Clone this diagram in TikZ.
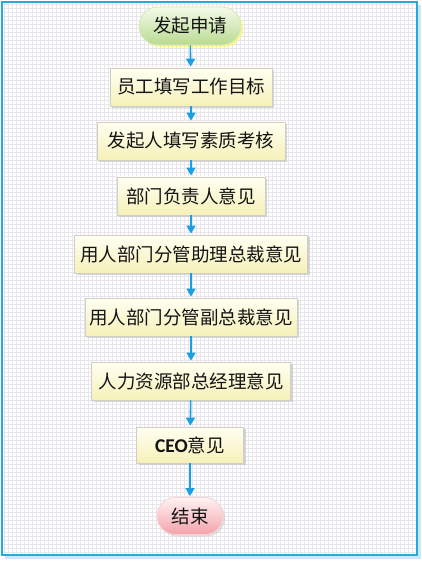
\documentclass[tikz,border=0pt]{standalone}
\usepackage{fontspec}
\newfontfamily\cjk{Noto Sans CJK SC}
\newfontfamily\latinb{Carlito}
\usetikzlibrary{shadows,arrows.meta,shapes.misc}
\definecolor{frameblue}{HTML}{29A8E0}
\definecolor{arrowblue}{HTML}{1A9FE0}
\definecolor{gridgray}{HTML}{E6E6EC}
\definecolor{boxtop}{HTML}{FFFFF2}
\definecolor{boxbot}{HTML}{F6F1B8}
\definecolor{boxline}{HTML}{CFCFC8}
\definecolor{greentop}{HTML}{F4FAE8}
\definecolor{greenbot}{HTML}{B9DA92}
\definecolor{pinktop}{HTML}{FFF2F2}
\definecolor{pinkbot}{HTML}{F3A3AA}
\tikzset{
  txt/.style={font=\cjk\fontsize{18.5}{21}\selectfont, text=black!92},
  stepbox/.style={rectangle, draw=boxline, line width=0.8pt, top color=boxtop, bottom color=boxbot,
    drop shadow={shadow xshift=2pt, shadow yshift=-2pt, fill=black!25, opacity=0.6},
    minimum height=38pt, inner sep=0pt, txt},
  pillgreen/.style={rounded rectangle, draw=greenbot!60!white, line width=0.8pt, top color=greentop, bottom color=greenbot,
    drop shadow={shadow xshift=2pt, shadow yshift=-2pt, fill=yellow!60!white, opacity=0.7},
    minimum height=38pt, inner sep=0pt, txt},
  pillpink/.style={rounded rectangle, draw=pinkbot!50!white, line width=0.8pt, top color=pinktop, bottom color=pinkbot,
    drop shadow={shadow xshift=2pt, shadow yshift=-2pt, fill=black!20, opacity=0.6},
    minimum height=37pt, inner sep=0pt, txt},
  flow/.style={draw=arrowblue, line width=1.6pt, -{Triangle[length=8pt,width=9pt]}, shorten >=1pt}
}
\begin{document}
\begin{tikzpicture}[x=1pt,y=-1pt]
\useasboundingbox (0,0) rectangle (421,561);
% background and grid
\fill[white] (0,0) rectangle (421,561);
\fill[frameblue!25] (5,5) rectangle (421,559);
\fill[white] (2,2) rectangle (417,555);
\draw[gridgray, line width=0.4pt, step=4pt] (3,3) grid (416,554);
\draw[frameblue, line width=2pt] (2,2) rectangle (417,555);
% nodes
\node[pillgreen, minimum width=102pt] (start) at (190,26) {发起申请};
\node[stepbox, minimum width=162pt] (n1) at (191,87) {员工填写工作目标};
\node[stepbox, minimum width=188pt] (n2) at (191,141) {发起人填写素质考核};
\node[stepbox, minimum width=148pt] (n3) at (191,196) {部门负责人意见};
\node[stepbox, minimum width=233pt] (n4) at (191,254) {用人部门分管助理总裁意见};
\node[stepbox, minimum width=212pt] (n5) at (191,317) {用人部门分管副总裁意见};
\node[stepbox, minimum width=199pt] (n6) at (191,381) {人力资源部总经理意见};
\node[stepbox, minimum width=107pt, minimum height=36pt] (n7) at (190,445) {{\latinb\bfseries\fontsize{19.5}{21}\selectfont CEO}意见};
\node[pillpink, minimum width=66pt] (end) at (190,516) {结束};
% connectors
\draw[flow] (start) -- (n1);
\draw[flow] (n1) -- (n2);
\draw[flow] (n2) -- (n3);
\draw[flow] (n3) -- (n4);
\draw[flow] (n4) -- (n5);
\draw[flow] (n5) -- (n6);
\draw[flow] (n6) -- (n7);
\draw[flow] (n7) -- (end);
\end{tikzpicture}
\end{document}
